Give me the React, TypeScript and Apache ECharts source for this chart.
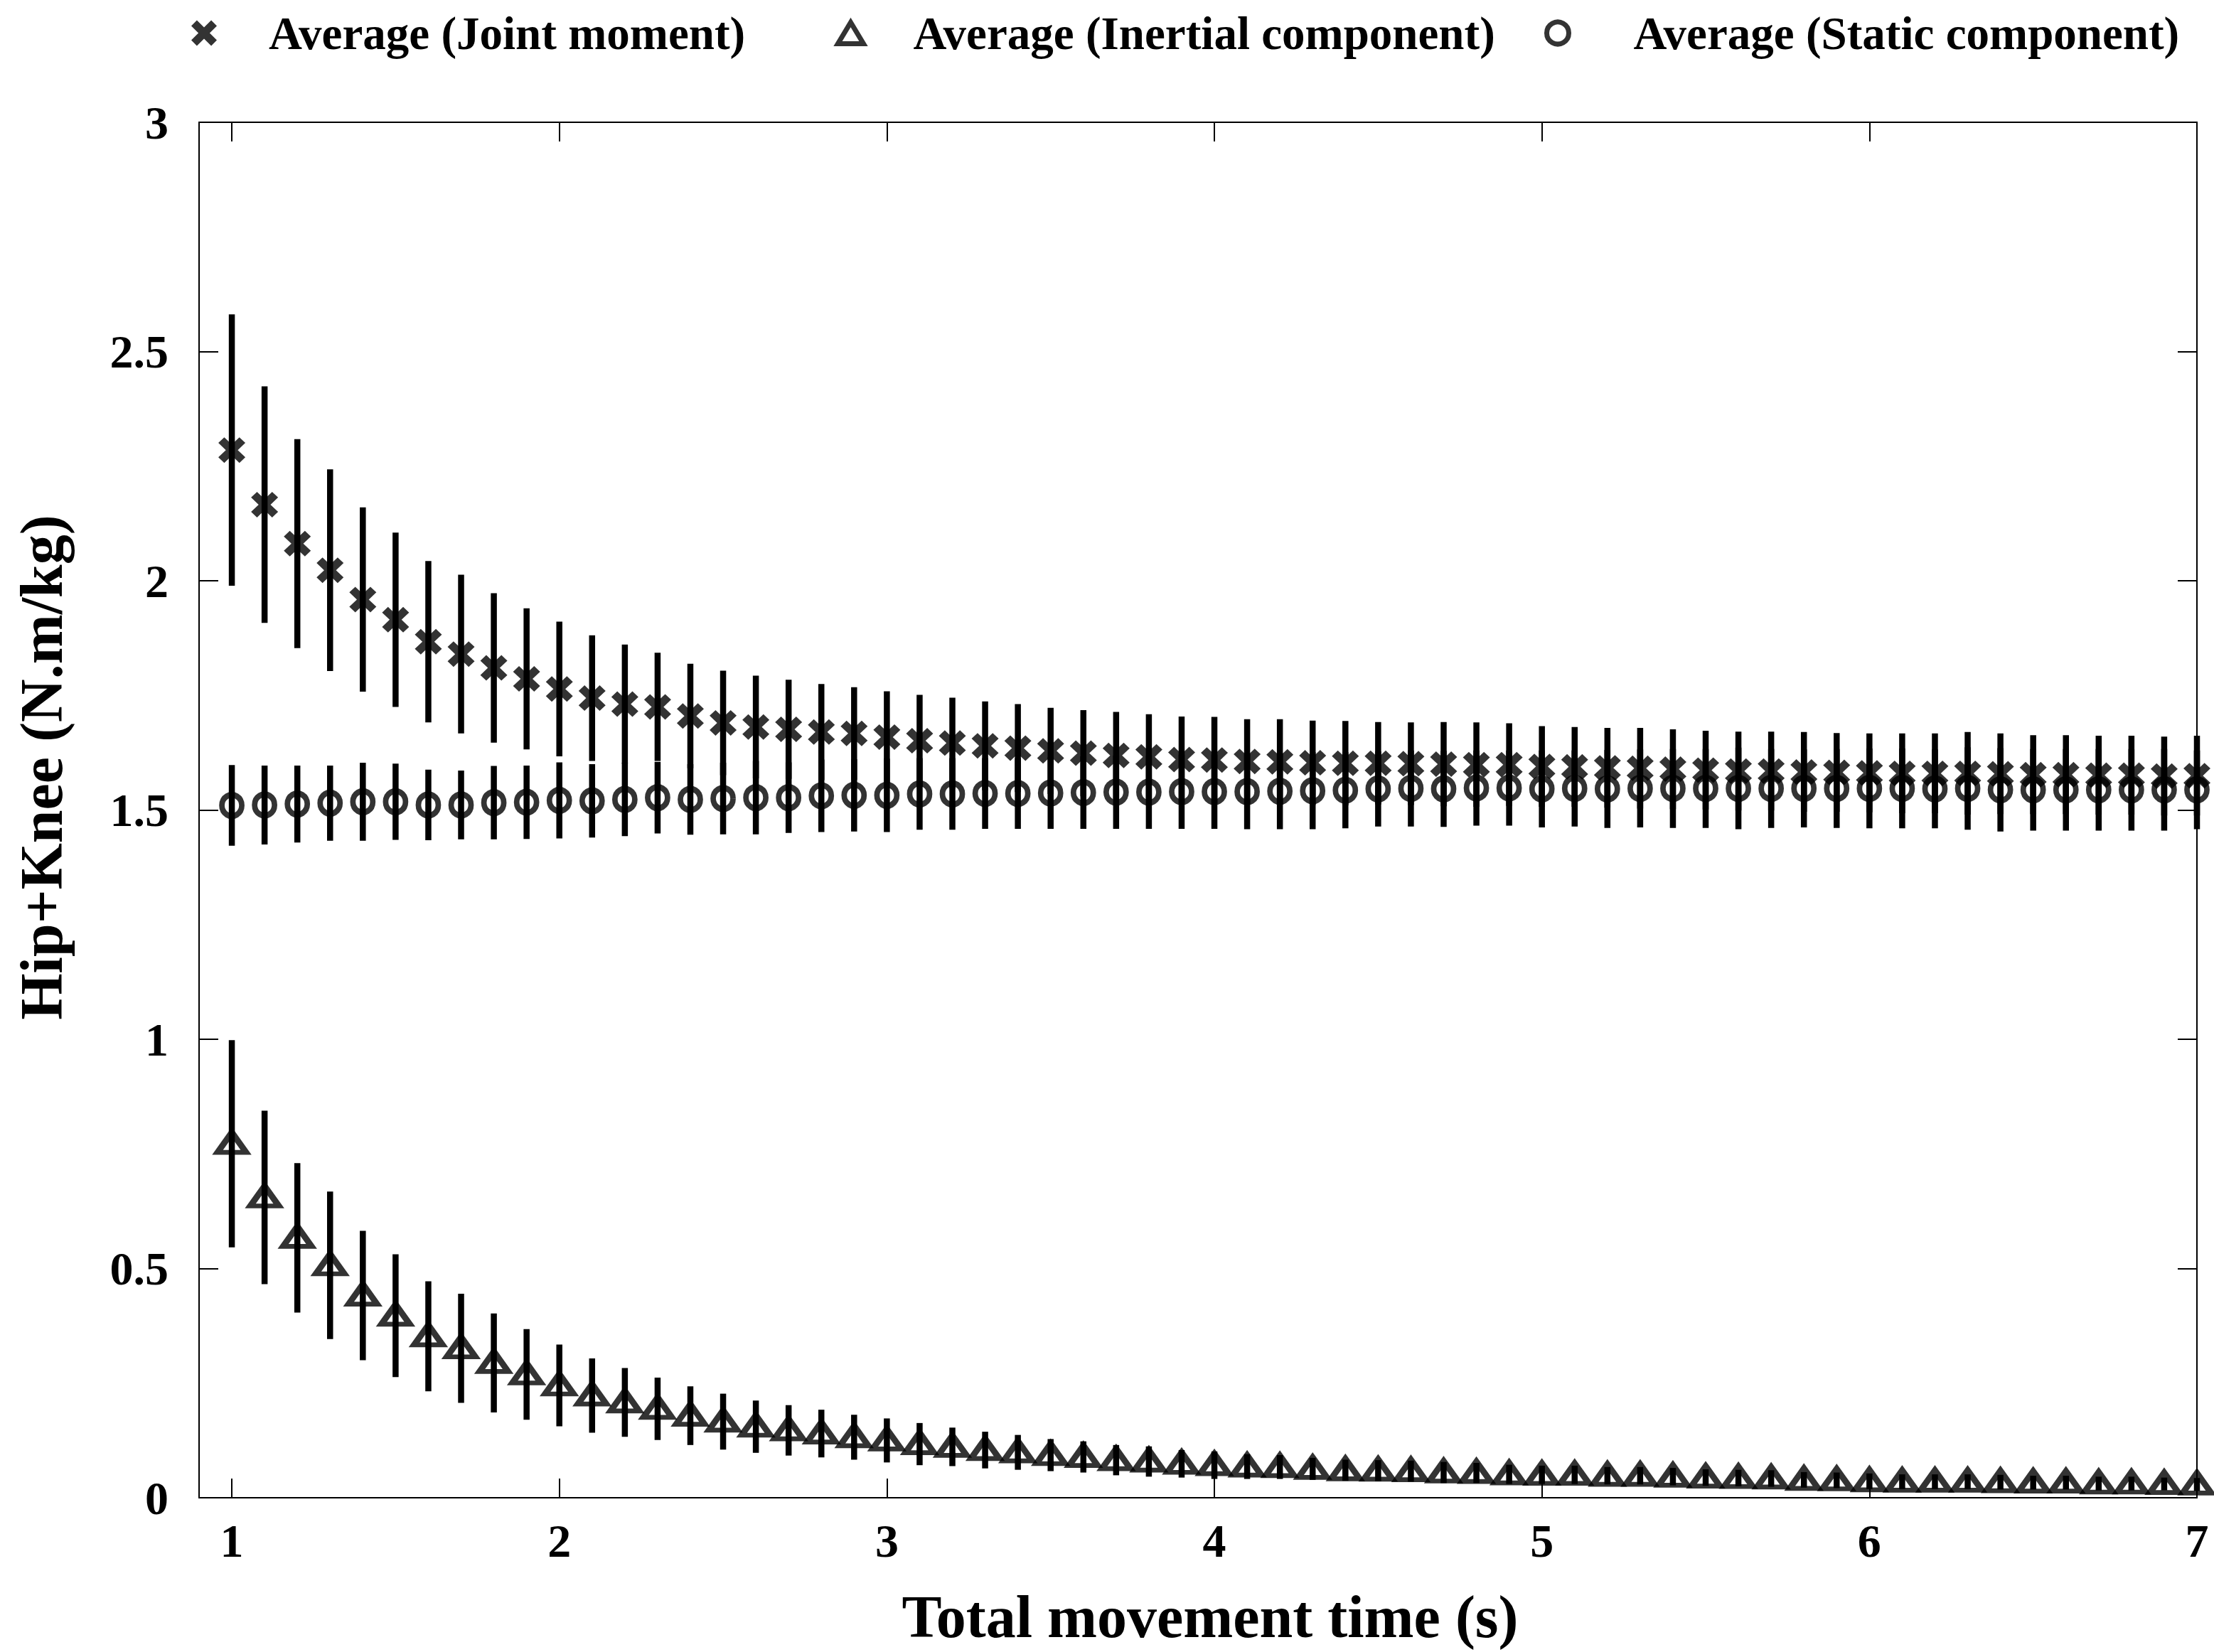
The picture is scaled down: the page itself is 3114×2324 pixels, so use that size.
import React, { useEffect, useRef } from "react";
import * as echarts from "echarts";

// ---- data ----
const times = [
  1, 1.1, 1.2, 1.3, 1.4, 1.5, 1.6, 1.7, 1.8, 1.9,
  2, 2.1, 2.2, 2.3, 2.4, 2.5, 2.6, 2.7, 2.8, 2.9,
  3, 3.1, 3.2, 3.3, 3.4, 3.5, 3.6, 3.7, 3.8, 3.9,
  4, 4.1, 4.2, 4.3, 4.4, 4.5, 4.6, 4.7, 4.8, 4.9,
  5, 5.1, 5.2, 5.3, 5.4, 5.5, 5.6, 5.7, 5.8, 5.9,
  6, 6.1, 6.2, 6.3, 6.4, 6.5, 6.6, 6.7, 6.8, 6.9, 7,
];

const jointMean = [
  2.285, 2.166, 2.081, 2.023, 1.959, 1.915, 1.867, 1.84, 1.81, 1.786,
  1.764, 1.744, 1.731, 1.725, 1.705, 1.69, 1.681, 1.676, 1.67, 1.667,
  1.659, 1.651, 1.646, 1.64, 1.635, 1.629, 1.624, 1.619, 1.616, 1.61,
  1.609, 1.606, 1.605, 1.603, 1.602, 1.602, 1.601, 1.6, 1.599, 1.599,
  1.595, 1.594, 1.592, 1.591, 1.589, 1.587, 1.585, 1.585, 1.583, 1.582,
  1.581, 1.58, 1.58, 1.58, 1.579, 1.577, 1.577, 1.576, 1.576, 1.574, 1.575,
];
const jointSd = [
  0.296, 0.258, 0.228, 0.22, 0.201, 0.19, 0.176, 0.173, 0.163, 0.154,
  0.147, 0.137, 0.13, 0.118, 0.114, 0.114, 0.112, 0.108, 0.105, 0.101,
  0.1, 0.1, 0.099, 0.097, 0.096, 0.094, 0.094, 0.095, 0.093, 0.094,
  0.094, 0.092, 0.093, 0.092, 0.092, 0.09, 0.09, 0.092, 0.092, 0.09,
  0.088, 0.087, 0.087, 0.088, 0.087, 0.086, 0.086, 0.086, 0.087, 0.086,
  0.086, 0.087, 0.087, 0.09, 0.088, 0.086, 0.086, 0.086, 0.086, 0.086, 0.087,
];

const inertialMean = [
  0.772, 0.655, 0.567, 0.507, 0.441, 0.397, 0.352, 0.326, 0.294, 0.269,
  0.245, 0.223, 0.208, 0.194, 0.179, 0.166, 0.155, 0.147, 0.14, 0.132,
  0.125, 0.117, 0.111, 0.104, 0.099, 0.093, 0.089, 0.082, 0.079, 0.074,
  0.071, 0.068, 0.067, 0.063, 0.06, 0.059, 0.058, 0.055, 0.054, 0.051,
  0.05, 0.05, 0.048, 0.048, 0.046, 0.044, 0.043, 0.042, 0.039, 0.038,
  0.036, 0.035, 0.035, 0.035, 0.034, 0.033, 0.033, 0.031, 0.031, 0.03, 0.029,
];
const inertialSd = [
  0.226, 0.189, 0.163, 0.161, 0.141, 0.134, 0.12, 0.119, 0.108, 0.099,
  0.089, 0.081, 0.075, 0.068, 0.064, 0.061, 0.057, 0.055, 0.052, 0.049,
  0.048, 0.046, 0.042, 0.04, 0.038, 0.035, 0.034, 0.033, 0.033, 0.03,
  0.03, 0.027, 0.026, 0.024, 0.023, 0.023, 0.023, 0.023, 0.022, 0.021,
  0.02, 0.02, 0.019, 0.019, 0.019, 0.018, 0.018, 0.018, 0.017, 0.017,
  0.017, 0.016, 0.016, 0.016, 0.016, 0.015, 0.015, 0.015, 0.015, 0.014, 0.014,
];

const staticMean = [
  1.51, 1.511, 1.513, 1.515, 1.518, 1.518, 1.511, 1.511, 1.516, 1.517,
  1.521, 1.52, 1.523, 1.527, 1.523, 1.525, 1.527, 1.527, 1.531, 1.532,
  1.532, 1.535, 1.535, 1.536, 1.536, 1.537, 1.538, 1.539, 1.539, 1.54,
  1.54, 1.54, 1.541, 1.542, 1.543, 1.546, 1.547, 1.546, 1.548, 1.548,
  1.546, 1.547, 1.546, 1.547, 1.547, 1.547, 1.547, 1.547, 1.547, 1.547,
  1.547, 1.547, 1.546, 1.547, 1.544, 1.544, 1.544, 1.544, 1.544, 1.544, 1.544,
];
const staticSd = [
  0.088, 0.086, 0.084, 0.082, 0.085, 0.083, 0.077, 0.075, 0.08, 0.08,
  0.083, 0.08, 0.08, 0.078, 0.077, 0.078, 0.08, 0.077, 0.079, 0.079,
  0.08, 0.078, 0.078, 0.077, 0.077, 0.078, 0.079, 0.08, 0.08, 0.081,
  0.081, 0.082, 0.083, 0.084, 0.083, 0.082, 0.083, 0.083, 0.082, 0.082,
  0.084, 0.083, 0.085, 0.085, 0.086, 0.086, 0.089, 0.086, 0.085, 0.086,
  0.087, 0.087, 0.086, 0.09, 0.091, 0.089, 0.089, 0.089, 0.089, 0.089, 0.086,
];

const xTicks = [1, 2, 3, 4, 5, 6, 7];
const yTicks = [0, 0.5, 1, 1.5, 2, 2.5, 3];

const seriesNames = [
  "Average (Joint moment)",
  "Average (Inertial component)",
  "Average (Static component)",
];
const xTitle = "Total movement time (s)";
const yTitle = "Hip+Knee (N.m/kg)";

// ---- styling ----
const W = 3114;
const H = 2324;
const FONT = '"Liberation Serif", "DejaVu Serif", serif';
const CROSS =
  "path://M0,0.22 L0.22,0 L0.5,0.28 L0.78,0 L1,0.22 L0.72,0.5 L1,0.78 L0.78,1 L0.5,0.72 L0.22,1 L0,0.78 L0.28,0.5 Z";

const pts = (m: number[]) => times.map((t, i) => [t, m[i]]);
const bars = (m: number[], s: number[]) =>
  times.map((t, i) => [t, m[i] - s[i], m[i] + s[i]]);

const errorSeries = (name: string, m: number[], s: number[]) => ({
  type: "custom",
  name,
  data: bars(m, s),
  encode: { x: 0, y: [1, 2] },
  z: 2,
  silent: true,
  renderItem: (_params: any, api: any) => {
    const x = api.value(0);
    const a = api.coord([x, api.value(1)]);
    const b = api.coord([x, api.value(2)]);
    return {
      type: "line",
      shape: { x1: a[0], y1: a[1], x2: b[0], y2: b[1] },
      style: { stroke: "#000", lineWidth: 8.5 },
    };
  },
});

const tickStyle = { color: "#000", width: 2 };
const labelFont = { fontFamily: FONT, fontWeight: "bold" as const, color: "#000" };

export default function App() {
  const ref = useRef<HTMLDivElement>(null);

  useEffect(() => {
    if (!ref.current) return;
    const chart = echarts.init(ref.current, null, { renderer: "svg" });

    const legendText = { ...labelFont, fontSize: 65 };

    const option: any = {
      animation: false,
      backgroundColor: "#fff",
      grid: { left: 280, right: 24, top: 172, bottom: 217 },
      legend: [
        {
          data: [seriesNames[0]],
          left: 269,
          top: 14,
          padding: 0,
          itemWidth: 38,
          itemHeight: 36,
          selectedMode: false,
          itemStyle: { borderWidth: 0 },
          textStyle: { ...legendText, padding: [0, 0, 0, 67] },
        },
        {
          data: [seriesNames[1]],
          left: 1175,
          top: 14,
          padding: 0,
          itemWidth: 36,
          itemHeight: 30,
          selectedMode: false,
          itemStyle: { borderWidth: 7 },
          textStyle: { ...legendText, padding: [0, 0, 0, 65] },
        },
        {
          data: [seriesNames[2]],
          left: 2172,
          top: 14,
          padding: 0,
          itemWidth: 31,
          itemHeight: 31,
          selectedMode: false,
          itemStyle: { borderWidth: 7 },
          textStyle: { ...legendText, padding: [0, 0, 0, 86] },
        },
      ],
      xAxis: [
        {
          type: "value",
          min: 0.9,
          max: 7,
          position: "bottom",
          axisLine: { show: true, onZero: false, lineStyle: tickStyle },
          axisTick: { show: true, inside: true, length: 27, lineStyle: tickStyle, customValues: xTicks },
          axisLabel: { customValues: xTicks, margin: 27, fontSize: 66, ...labelFont },
          splitLine: { show: false },
          name: xTitle,
          nameLocation: "middle",
          nameGap: 125,
          nameTextStyle: { ...labelFont, fontSize: 84, padding: [0, 0, 0, 34] },
        },
        {
          type: "value",
          min: 0.9,
          max: 7,
          position: "top",
          axisLine: { show: true, onZero: false, lineStyle: tickStyle },
          axisTick: { show: true, inside: true, length: 27, lineStyle: tickStyle, customValues: xTicks },
          axisLabel: { show: false },
          splitLine: { show: false },
        },
      ],
      yAxis: [
        {
          type: "value",
          min: 0,
          max: 3,
          position: "left",
          axisLine: { show: true, onZero: false, lineStyle: tickStyle },
          axisTick: { show: true, inside: true, length: 27, lineStyle: tickStyle, customValues: yTicks },
          axisLabel: { customValues: yTicks, margin: 43, fontSize: 66, ...labelFont },
          splitLine: { show: false },
          name: yTitle,
          nameLocation: "middle",
          nameGap: 180,
          nameRotate: 90,
          nameTextStyle: { ...labelFont, fontSize: 84, padding: [0, 0, 0, 120] },
        },
        {
          type: "value",
          min: 0,
          max: 3,
          position: "right",
          axisLine: { show: true, onZero: false, lineStyle: tickStyle },
          axisTick: { show: true, inside: true, length: 27, lineStyle: tickStyle, customValues: yTicks },
          axisLabel: { show: false },
          splitLine: { show: false },
        },
      ],
      series: [
        errorSeries("sd-joint", jointMean, jointSd),
        errorSeries("sd-inertial", inertialMean, inertialSd),
        errorSeries("sd-static", staticMean, staticSd),
        {
          type: "scatter",
          name: seriesNames[0],
          data: pts(jointMean),
          symbol: CROSS,
          symbolSize: [38, 36],
          itemStyle: { color: "#000", borderWidth: 0 },
          z: 3,
        },
        {
          type: "scatter",
          name: seriesNames[1],
          data: pts(inertialMean),
          symbol: "triangle",
          symbolSize: [40, 28],
          symbolOffset: [0, -2],
          itemStyle: { color: "rgba(0,0,0,0)", borderColor: "#000", borderWidth: 8 },
          z: 3,
        },
        {
          type: "scatter",
          name: seriesNames[2],
          data: pts(staticMean),
          symbol: "circle",
          symbolSize: [28, 30],
          itemStyle: { color: "rgba(0,0,0,0)", borderColor: "#000", borderWidth: 8 },
          z: 3,
        },
      ],
    };

    chart.setOption(option);
    return () => chart.dispose();
  }, []);

  return (
    <div
      ref={ref}
      style={{ position: "fixed", left: 0, top: 0, width: W, height: H, background: "#fff" }}
    />
  );
}
